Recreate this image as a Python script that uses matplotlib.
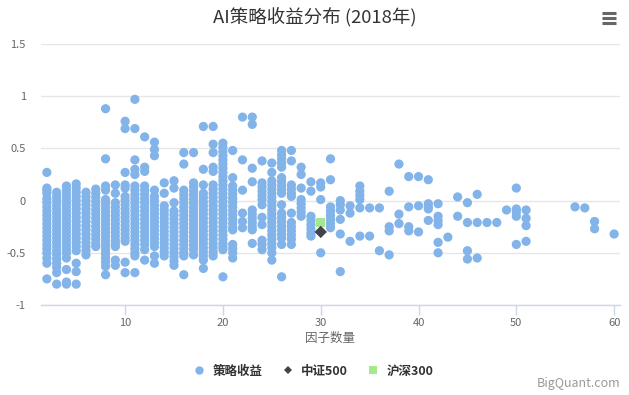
import matplotlib
matplotlib.use("Agg")
import matplotlib.pyplot as plt
from matplotlib.lines import Line2D

plt.rcParams['font.family'] = ['Noto Sans CJK SC', 'DejaVu Sans']

# ---- data ----
factor_counts = [2, 3, 4, 5, 6, 7, 8, 9, 10, 11, 12, 13, 14, 15, 16, 17, 18, 19, 20, 21,
                 22, 23, 24, 25, 26, 27, 28, 29, 30, 31, 32, 33, 34, 35, 36, 37, 38, 39, 40,
                 41, 42, 43, 44, 45, 46, 47, 48, 49, 50, 51, 56, 57, 58, 60]

strategy_returns = [
    [0.27, 0.12, 0.10, 0.07, 0.02, -0.02, -0.06, -0.10, -0.14, -0.18, -0.22, -0.26, -0.30, -0.34, -0.38, -0.42, -0.46, -0.50, -0.55, -0.60, -0.75],
    [0.08, 0.04, 0.00, -0.04, -0.08, -0.12, -0.16, -0.20, -0.24, -0.28, -0.32, -0.36, -0.40, -0.44, -0.48, -0.52, -0.56, -0.60, -0.64, -0.69, -0.80],
    [0.14, 0.10, 0.06, 0.02, -0.02, -0.06, -0.10, -0.14, -0.18, -0.22, -0.26, -0.30, -0.34, -0.38, -0.42, -0.46, -0.50, -0.55, -0.66, -0.78, -0.80],
    [0.16, 0.12, 0.08, 0.04, 0.00, -0.04, -0.08, -0.12, -0.16, -0.20, -0.24, -0.28, -0.32, -0.36, -0.40, -0.44, -0.48, -0.60, -0.68, -0.80],
    [0.08, 0.04, 0.00, -0.04, -0.08, -0.12, -0.16, -0.20, -0.24, -0.28, -0.32, -0.36, -0.40, -0.44, -0.48, -0.52],
    [0.11, 0.07, 0.03, -0.01, -0.05, -0.09, -0.13, -0.17, -0.21, -0.25, -0.29, -0.33, -0.37, -0.41, -0.44],
    [0.88, 0.40, 0.14, 0.10, 0.01, -0.03, -0.07, -0.11, -0.15, -0.19, -0.23, -0.27, -0.31, -0.35, -0.39, -0.43, -0.47, -0.51, -0.55, -0.59, -0.63, -0.71],
    [0.15, 0.07, -0.02, -0.06, -0.10, -0.14, -0.18, -0.22, -0.26, -0.30, -0.34, -0.38, -0.41, -0.44, -0.57, -0.62],
    [0.76, 0.69, 0.27, 0.15, 0.12, 0.04, 0.00, -0.04, -0.08, -0.12, -0.16, -0.20, -0.24, -0.28, -0.32, -0.36, -0.39, -0.59, -0.69],
    [0.97, 0.69, 0.39, 0.30, 0.25, 0.14, 0.10, 0.06, 0.02, -0.02, -0.06, -0.10, -0.14, -0.18, -0.22, -0.26, -0.30, -0.34, -0.38, -0.42, -0.46, -0.50, -0.53, -0.69],
    [0.61, 0.32, 0.28, 0.14, 0.10, 0.06, 0.02, -0.02, -0.06, -0.10, -0.14, -0.18, -0.22, -0.26, -0.30, -0.34, -0.38, -0.42, -0.47, -0.57],
    [0.56, 0.49, 0.43, 0.10, 0.04, 0.00, -0.04, -0.08, -0.12, -0.16, -0.20, -0.24, -0.28, -0.32, -0.36, -0.40, -0.44, -0.53, -0.60],
    [0.17, 0.07, -0.05, -0.09, -0.13, -0.17, -0.21, -0.25, -0.29, -0.33, -0.37, -0.41, -0.45, -0.49, -0.53],
    [0.19, 0.12, -0.02, -0.10, -0.14, -0.18, -0.22, -0.26, -0.30, -0.34, -0.38, -0.42, -0.46, -0.50, -0.54, -0.58, -0.62],
    [0.46, 0.35, 0.10, 0.06, 0.02, -0.02, -0.06, -0.10, -0.14, -0.18, -0.22, -0.26, -0.30, -0.34, -0.38, -0.42, -0.46, -0.50, -0.53, -0.71],
    [0.46, 0.17, 0.13, 0.09, 0.05, 0.01, -0.03, -0.07, -0.11, -0.15, -0.19, -0.23, -0.27, -0.31, -0.35, -0.39, -0.43, -0.47, -0.52],
    [0.71, 0.30, 0.15, 0.07, 0.03, -0.01, -0.05, -0.09, -0.13, -0.17, -0.21, -0.25, -0.29, -0.33, -0.37, -0.41, -0.45, -0.49, -0.53, -0.57, -0.65],
    [0.71, 0.54, 0.46, 0.32, 0.28, 0.15, 0.11, 0.07, 0.03, -0.01, -0.05, -0.09, -0.13, -0.17, -0.21, -0.25, -0.29, -0.33, -0.37, -0.41, -0.45, -0.49, -0.53],
    [0.55, 0.51, 0.47, 0.43, 0.39, 0.35, 0.31, 0.27, 0.23, 0.19, 0.15, 0.11, 0.07, 0.03, -0.01, -0.05, -0.09, -0.13, -0.17, -0.21, -0.25, -0.29, -0.33, -0.37, -0.41, -0.44, -0.47, -0.73],
    [0.48, 0.22, 0.14, 0.10, 0.06, 0.02, -0.02, -0.06, -0.10, -0.14, -0.18, -0.22, -0.26, -0.28, -0.42, -0.46, -0.50, -0.55],
    [0.80, 0.39, 0.10, -0.12, -0.20, -0.26],
    [0.80, 0.73, 0.31, 0.18, -0.09, -0.13, -0.17, -0.21, -0.25, -0.28, -0.41],
    [0.38, 0.17, 0.13, 0.09, 0.05, 0.01, -0.04, -0.16, -0.23, -0.38, -0.42, -0.47],
    [0.36, 0.27, 0.19, 0.15, 0.11, 0.07, 0.03, -0.01, -0.05, -0.09, -0.13, -0.17, -0.21, -0.25, -0.29, -0.33, -0.37, -0.41, -0.45, -0.50, -0.57],
    [0.48, 0.44, 0.40, 0.36, 0.32, 0.22, 0.18, 0.14, 0.10, 0.07, -0.04, -0.12, -0.16, -0.20, -0.24, -0.28, -0.32, -0.36, -0.42, -0.73],
    [0.48, 0.38, 0.15, 0.11, 0.07, 0.04, -0.12, -0.21, -0.25, -0.29, -0.33, -0.37, -0.42],
    [0.32, 0.25, 0.12, 0.01, -0.03, -0.07, -0.11, -0.15],
    [0.18, 0.09, -0.15, -0.19, -0.23, -0.27, -0.31, -0.34],
    [0.17, 0.13, 0.01, -0.50],
    [0.40, 0.20, -0.06, -0.10, -0.14, -0.18, -0.22, -0.26],
    [0.00, -0.04, -0.09, -0.18, -0.32, -0.68],
    [-0.05, -0.12, -0.39],
    [0.14, 0.09, 0.05, 0.01, -0.07, -0.34],
    [-0.07, -0.34],
    [-0.07, -0.48],
    [0.09, -0.25, -0.29, -0.52],
    [0.35, -0.13, -0.22],
    [0.23, -0.06, -0.25, -0.29],
    [0.23, -0.05, -0.30],
    [0.20, -0.03, -0.06, -0.08, -0.19],
    [-0.03, -0.15, -0.19, -0.23, -0.40, -0.50],
    [-0.35],
    [0.035, -0.15],
    [-0.02, -0.21, -0.48, -0.56],
    [0.06, -0.21, -0.55],
    [-0.21],
    [-0.21],
    [-0.09],
    [0.12, -0.08, -0.11, -0.15, -0.42],
    [-0.09, -0.17, -0.24, -0.39],
    [-0.06],
    [-0.07],
    [-0.20, -0.27],
    [-0.32],
]

csi500_x = [30]
csi500_y = [-0.30]
hs300_x = [30]
hs300_y = [-0.21]

title = "AI策略收益分布 (2018年)"
x_label = "因子数量"
x_ticks = [10, 20, 30, 40, 50, 60]
y_ticks = [-1, -0.5, 0, 0.5, 1, 1.5]
y_tick_labels = ["-1", "-0.5", "0", "0.5", "1", "1.5"]
series_names = ["策略收益", "中证500", "沪深300"]

# ---- plotting ----
W, H = 629, 395
fig = plt.figure(figsize=(W / 100, H / 100), dpi=100)
ax = fig.add_axes([41 / W, 1 - 305 / H, (620 - 41) / W, (305 - 44) / H])

blue = '#82b3e9'
dark = '#434348'
green = '#a3e88c'

xs, ys = [], []
for fc, vals in zip(factor_counts, strategy_returns):
    for v in vals:
        xs.append(fc)
        ys.append(v)

ax.scatter(xs, ys, s=44, c=blue, edgecolors='none', linewidths=0, zorder=3)
ax.scatter(hs300_x, hs300_y, s=46, c=green, marker='s', edgecolors='none', zorder=4)
ax.scatter(csi500_x, csi500_y, s=40, c=dark, marker='D', edgecolors='none', zorder=5)

ax.set_xlim(1.4, 60.6)
ax.set_ylim(-1, 1.5)
ax.set_xticks(x_ticks)
ax.set_yticks(y_ticks)
ax.set_yticklabels(y_tick_labels)

for sp in ['top', 'right', 'left']:
    ax.spines[sp].set_visible(False)
ax.spines['bottom'].set_color('#ccd6eb')
ax.spines['bottom'].set_linewidth(1)
ax.grid(axis='y', color='#e6e6e6', linewidth=1, zorder=0)
ax.set_axisbelow(True)
ax.tick_params(axis='y', length=0, pad=11, labelsize=8, labelcolor='#666666')
ax.tick_params(axis='x', length=7, width=1, color='#ccd6eb', pad=2,
               labelsize=8, labelcolor='#666666')

ax.set_xlabel(x_label, fontsize=9, color='#666666', labelpad=3)

fig.text(0.5, 1 - 17 / H, title, ha='center', va='center', fontsize=13.3, color='#333333')

# hamburger menu icon
for yy in [13, 18, 23]:
    fig.add_artist(Line2D([602 / W, 616 / W], [1 - yy / H, 1 - yy / H],
                          color='#666666', linewidth=2.2, solid_capstyle='butt'))

handles = [
    Line2D([], [], linestyle='none', marker='o', markersize=6, color=blue, markeredgewidth=0),
    Line2D([], [], linestyle='none', marker='D', markersize=4.5, color=dark, markeredgewidth=0),
    Line2D([], [], linestyle='none', marker='s', markersize=6, color=green, markeredgewidth=0),
]
fig.legend(handles, series_names, ncol=3, frameon=False, loc='center',
           bbox_to_anchor=(0.498, 1 - 371 / H),
           prop={'size': 9, 'weight': 'bold'}, labelcolor='#333333',
           handletextpad=0.6, columnspacing=1.5, handlelength=1.0)

fig.text(620 / W, 1 - 384 / H, "BigQuant.com", ha='right', va='center',
         fontsize=9, color='#999999')

fig.savefig('out.png', dpi=100)
